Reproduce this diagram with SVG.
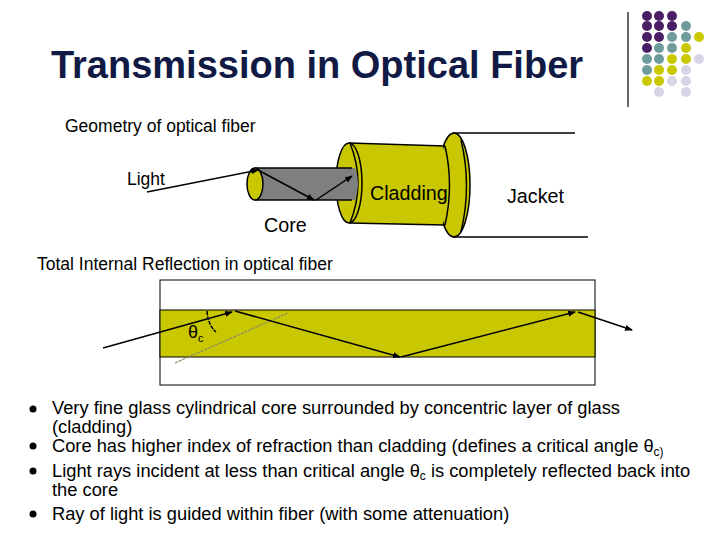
<svg xmlns="http://www.w3.org/2000/svg" width="720" height="540" viewBox="0 0 720 540">
<style>
text{font-family:"Liberation Sans",Arial,sans-serif;fill:#000}
.s{font-size:17.5px}.m{font-size:19.7px}.b{font-size:18.3px}
.ln{stroke:#000;stroke-width:1.5;fill:none}
.P{fill:#4a1e64}.T{fill:#6f9b9c}.Y{fill:#c9c800}.L{fill:#d5d5e5}
</style>
<defs><marker id="a" markerWidth="8" markerHeight="8" refX="7" refY="4" orient="auto" markerUnits="userSpaceOnUse"><path d="M0,1 L8,4 L0,7z" fill="#000"/></marker></defs>
<rect width="720" height="540" fill="#fff"/>
<g id="deco">
<line x1="628" y1="12" x2="628" y2="107" stroke="#000" stroke-width="1.2"/>
<g>
<circle class="P" cx="647" cy="16" r="5"/><circle class="P" cx="659" cy="16" r="5"/><circle class="P" cx="672" cy="16" r="5"/>
<circle class="P" cx="647" cy="26" r="5"/><circle class="P" cx="659" cy="26" r="5"/><circle class="P" cx="672" cy="26" r="5"/><circle class="T" cx="686" cy="26" r="5"/>
<circle class="P" cx="647" cy="37" r="5"/><circle class="P" cx="659" cy="37" r="5"/><circle class="T" cx="672" cy="37" r="5"/><circle class="T" cx="686" cy="37" r="5"/><circle class="Y" cx="699" cy="37" r="5"/>
<circle class="P" cx="647" cy="48" r="5"/><circle class="T" cx="659" cy="48" r="5"/><circle class="T" cx="672" cy="48" r="5"/><circle class="Y" cx="686" cy="48" r="5"/>
<circle class="T" cx="647" cy="59" r="5"/><circle class="T" cx="659" cy="59" r="5"/><circle class="Y" cx="672" cy="59" r="5"/><circle class="Y" cx="686" cy="59" r="5"/><circle class="L" cx="699" cy="59" r="5"/>
<circle class="T" cx="647" cy="70" r="5"/><circle class="Y" cx="659" cy="70" r="5"/><circle class="Y" cx="672" cy="70" r="5"/><circle class="L" cx="686" cy="70" r="5"/>
<circle class="Y" cx="647" cy="81" r="5"/><circle class="Y" cx="659" cy="81" r="5"/><circle class="L" cx="672" cy="81" r="5"/><circle class="L" cx="686" cy="81" r="5"/>
<circle class="L" cx="659" cy="92" r="5"/><circle class="L" cx="686" cy="92" r="5"/>
</g>
</g>
<g id="title"><text x="317" y="78" text-anchor="middle" font-size="38" font-weight="bold" style="fill:#111a44">Transmission in Optical Fiber</text></g>
<g id="fiber">
<text class="s" x="65" y="132">Geometry of optical fiber</text>
<line class="ln" x1="453" y1="133" x2="575" y2="133"/>
<line class="ln" x1="453" y1="237" x2="588" y2="237"/>
<ellipse cx="454" cy="185" rx="16" ry="52" fill="#c9c800" stroke="#000" stroke-width="1.5"/>
<path d="M461,140 Q472,185 461,232" class="ln"/>
<path d="M349,143 L443,146 L443,225 L349,223 Z" fill="#c9c800"/>
<line class="ln" x1="349" y1="143" x2="445" y2="146"/>
<line class="ln" x1="349" y1="223" x2="445" y2="225"/>
<path d="M445,146 Q454,185 445,225" class="ln"/>
<ellipse cx="349" cy="183" rx="13" ry="40" fill="#c9c800" stroke="#000" stroke-width="1.5"/>
<path d="M350,143 Q366,183 350,223" class="ln"/>
<path d="M255,168 L355,168 Q361,184 355,200 L255,200 Z" fill="#7f7f7f"/>
<line class="ln" x1="255" y1="168" x2="352" y2="168" stroke-width="1"/>
<line class="ln" x1="255" y1="200" x2="352" y2="200" stroke-width="1"/>
<ellipse cx="255" cy="184" rx="8" ry="16" fill="#c9c800" stroke="#000" stroke-width="1.5"/>
<text class="s" x="127" y="185">Light</text>
<text class="m" x="370" y="200">Cladding</text>
<text class="m" x="507" y="203">Jacket</text>
<text class="m" x="264" y="232">Core</text>
</g>
<g id="tir">
<text class="s" x="37" y="270">Total Internal Reflection in optical fiber</text>
<rect x="160" y="280" width="435" height="105" fill="#fff" stroke="#000"/>
<rect x="160" y="310" width="435" height="47" fill="#c9c800" stroke="#000"/>
<line x1="175" y1="363" x2="288" y2="313" stroke="#8a8a6a" stroke-width="1.2" stroke-dasharray="3,1"/>
<path d="M207,311 Q208,325 216,332" class="ln" stroke-width="1" stroke-dasharray="4,1"/>
<text x="188" y="338" font-size="18" font-family="'DejaVu Serif',serif">θ<tspan font-size="11" dy="4">c</tspan></text>
</g>
<g id="connectors" class="ln">
<line x1="147" y1="192" x2="258" y2="170" marker-end="url(#a)"/>
<line x1="258" y1="170" x2="314" y2="200" marker-end="url(#a)"/>
<line x1="316" y1="200" x2="352" y2="176" marker-end="url(#a)"/>
<line x1="103" y1="348" x2="232" y2="312" marker-end="url(#a)"/>
<line x1="235" y1="311" x2="400" y2="357" marker-end="url(#a)"/>
<line x1="401" y1="357" x2="575" y2="312" marker-end="url(#a)"/>
<line x1="578" y1="312" x2="632" y2="330" marker-end="url(#a)"/>
</g>
<g id="bullets">
<g fill="#000"><circle cx="33" cy="409" r="3.5"/><circle cx="33" cy="446" r="3.5"/><circle cx="33" cy="471" r="3.5"/><circle cx="33" cy="514" r="3.5"/></g>
<text class="b" x="52" y="414">Very fine glass cylindrical core surrounded by concentric layer of glass</text>
<text class="b" x="52" y="433">(cladding)</text>
<text class="b" x="52" y="452">Core has higher index of refraction than cladding (defines a critical angle θ<tspan font-size="12" dy="4">c)</tspan></text>
<text class="b" x="52" y="477">Light rays incident at less than critical angle θ<tspan font-size="12" dy="3">c</tspan><tspan dy="-3"> is completely reflected back into</tspan></text>
<text class="b" x="52" y="496">the core</text>
<text class="b" x="52" y="520">Ray of light is guided within fiber (with some attenuation)</text>
</g>
</svg>
